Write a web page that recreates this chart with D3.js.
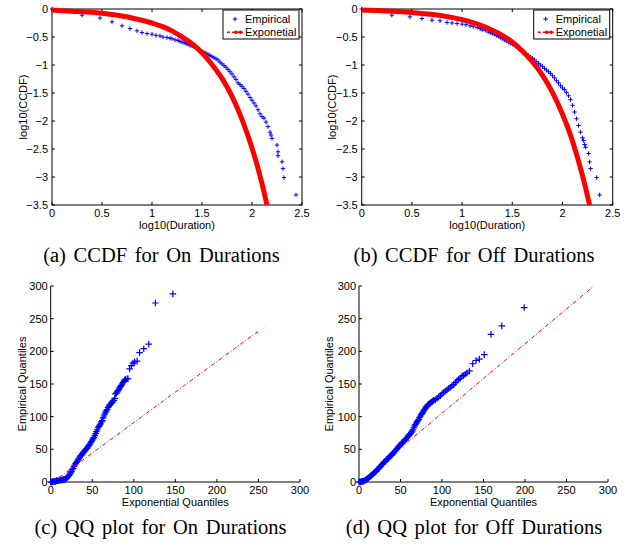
<!DOCTYPE html>
<html>
<head>
<meta charset="utf-8">
<script src="https://cdn.jsdelivr.net/npm/d3@7"></script>
<style>
  body { margin: 0; background: #fff; }
  svg { display: block; }
</style>
</head>
<body>
<svg id="fig" width="639" height="550"></svg>
<script>
// ticks
const ccdfTicksX = [0, 0.5, 1, 1.5, 2, 2.5];
const ccdfTicksY = [0, -0.5, -1, -1.5, -2, -2.5, -3, -3.5];
const qqTicks = [0, 50, 100, 150, 200, 250, 300];

// (a) CCDF On durations: [log10(duration), log10(CCDF)]
const onEmp = [[0,0],[0.30,-0.11],[0.48,-0.16],[0.60,-0.23],[0.70,-0.30],[0.78,-0.35],[0.85,-0.39],[0.90,-0.42],[0.95,-0.44],
  [1.00,-0.45],[1.04,-0.47],[1.08,-0.48],[1.11,-0.50],[1.15,-0.51],[1.18,-0.52],[1.20,-0.53],[1.23,-0.55],[1.26,-0.56],
  [1.28,-0.58],[1.30,-0.59],[1.32,-0.60],[1.34,-0.62],[1.36,-0.63],[1.38,-0.65],[1.40,-0.66],[1.42,-0.68],[1.44,-0.70],
  [1.46,-0.72],[1.48,-0.74],[1.50,-0.76],[1.52,-0.77],[1.54,-0.79],[1.56,-0.81],[1.58,-0.83],[1.60,-0.85],[1.62,-0.87],
  [1.64,-0.89],[1.66,-0.91],[1.68,-0.95],[1.70,-0.98],[1.72,-1.01],[1.74,-1.04],[1.76,-1.08],[1.78,-1.12],[1.80,-1.16],
  [1.82,-1.21],[1.84,-1.26],[1.86,-1.32],[1.88,-1.35],[1.90,-1.38],[1.92,-1.42],[1.94,-1.47],[1.96,-1.52],[1.98,-1.58],
  [2.00,-1.63],[2.02,-1.68],[2.04,-1.73],[2.06,-1.80],[2.08,-1.87],[2.10,-1.92],[2.12,-1.95],[2.14,-2.02],[2.16,-2.10],
  [2.18,-2.20],[2.19,-2.25],[2.20,-2.31],[2.25,-2.43],[2.26,-2.55],[2.26,-2.62],[2.30,-2.73],[2.31,-2.85],[2.32,-3.01],
  [2.44,-3.32]];
const onExp = [[0,-0.02],[0.2,-0.04],[0.4,-0.06],[0.6,-0.10],[0.8,-0.16],[1.0,-0.25],[1.1,-0.31],[1.2,-0.39],[1.3,-0.50],
  [1.4,-0.62],[1.5,-0.78],[1.6,-0.99],[1.7,-1.24],[1.8,-1.56],[1.9,-1.97],[2.0,-2.48],[2.05,-2.78],[2.1,-3.12],[2.15,-3.50]];

// (b) CCDF Off durations
const offEmp = [[0,0],[0.30,-0.11],[0.48,-0.14],[0.60,-0.17],[0.70,-0.20],[0.78,-0.21],[0.85,-0.24],[0.90,-0.25],[0.95,-0.26],
  [1.00,-0.27],[1.04,-0.28],[1.08,-0.30],[1.11,-0.31],[1.15,-0.33],[1.18,-0.35],[1.20,-0.37],[1.23,-0.38],[1.26,-0.41],
  [1.28,-0.42],[1.30,-0.44],[1.32,-0.45],[1.34,-0.47],[1.36,-0.49],[1.38,-0.51],[1.40,-0.53],[1.42,-0.55],[1.44,-0.57],
  [1.46,-0.59],[1.48,-0.61],[1.50,-0.63],[1.52,-0.65],[1.54,-0.67],[1.56,-0.70],[1.58,-0.73],[1.60,-0.75],[1.62,-0.78],
  [1.64,-0.81],[1.66,-0.83],[1.68,-0.86],[1.70,-0.88],[1.72,-0.91],[1.74,-0.94],[1.76,-0.97],[1.78,-1.00],[1.80,-1.03],
  [1.82,-1.06],[1.84,-1.09],[1.86,-1.12],[1.88,-1.15],[1.90,-1.19],[1.92,-1.23],[1.94,-1.28],[1.96,-1.32],[1.98,-1.37],
  [2.00,-1.41],[2.02,-1.44],[2.04,-1.49],[2.06,-1.55],[2.08,-1.62],[2.10,-1.72],[2.12,-1.84],[2.14,-1.96],[2.16,-2.08],
  [2.18,-2.20],[2.20,-2.30],[2.21,-2.35],[2.22,-2.42],[2.23,-2.47],[2.26,-2.58],[2.27,-2.73],[2.28,-2.85],[2.34,-3.01],
  [2.37,-3.32]];
const offExp = [[0,-0.02],[0.2,-0.03],[0.4,-0.05],[0.6,-0.08],[0.8,-0.12],[1.0,-0.19],[1.1,-0.24],[1.2,-0.30],[1.3,-0.38],
  [1.4,-0.47],[1.5,-0.59],[1.6,-0.75],[1.7,-0.94],[1.8,-1.18],[1.9,-1.49],[2.0,-1.88],[2.1,-2.36],[2.2,-2.98],[2.27,-3.50]];

// (c) QQ On durations: [exponential quantile, empirical quantile]
const qqOn = [[0,0],[1,0],[2,0],[3,1],[4,1],[5,1],[6,1],[7,2],[8,2],[9,2],[10,2],[11,3],[12,3],[13,3],[14,3],[15,4],
  [16,4],[17,4],[18,5],[19,6],[20,7],[21,8],[22,10],[23,12],[24,14],[25,16],[26,19],[27,21],[28,24],[29,26],
  [30,28],[31,30],[32,32],[33,34],[34,36],[35,38],[36,40],[37,41],[38,43],[39,45],[40,46],[41,48],[42,49],[43,51],
  [44,52],[45,54],[46,56],[47,58],[48,60],[49,62],[50,64],[51,66],[52,68],[53,71],[54,74],[55,77],[56,80],[57,83],
  [58,85],[59,87],[60,89],[61,92],[62,94],[63,98],[64,101],[65,104],[66,107],[67,109],[68,111],[69,114],[70,116],
  [71,118],[72,119],[73,121],[74,122],[75,124],[76,125],[77,128],[78,135],[79,136],[80,138],[81,140],[82,142],
  [83,144],[84,146],[85,148],[86,150],[87,152],[88,154],[89,156],[90,157],[92,158],[93,158],[95,173],[97,178],
  [99,182],[101,184],[104,185],[107,198],[112,204],[118,211],[126,274],[147,288]];
const qqOnRef = [[10,7],[250,231]];

// (d) QQ Off durations
const qqOff = [[0,0],[1,0],[2,0],[3,1],[4,1],[5,1],[6,2],[7,2],[8,3],[9,4],[10,5],[11,6],[12,7],[13,8],[14,9],[15,10],
  [16,11],[17,12],[18,14],[19,15],[20,16],[21,17],[22,19],[23,20],[24,21],[25,23],[26,24],[27,26],[28,27],[29,28],
  [30,30],[31,31],[32,32],[33,34],[34,35],[35,36],[36,37],[37,39],[38,40],[39,41],[40,42],[41,44],[42,45],[43,47],
  [44,48],[45,50],[46,51],[47,53],[48,54],[49,56],[50,57],[51,59],[52,60],[53,61],[54,62],[55,64],[56,65],[57,67],
  [58,68],[59,70],[60,71],[61,73],[62,74],[63,76],[64,78],[65,80],[66,83],[67,86],[68,88],[69,90],[70,92],[71,94],
  [72,96],[73,99],[74,101],[75,103],[76,105],[77,107],[78,109],[79,111],[80,113],[81,115],[82,116],[83,118],
  [84,119],[85,120],[86,121],[87,122],[88,123],[89,124],[90,125],[92,126],[94,128],[96,130],[98,132],[100,135],
  [102,137],[104,139],[106,141],[108,143],[110,145],[112,147],[114,149],[116,152],[118,155],[120,157],[122,159],
  [124,162],[126,163],[128,165],[130,167],[133,170],[137,181],[141,186],[145,188],[151,195],[159,226],[172,239],
  [199,267]];
const qqOffRef = [[50,52],[283,300]];

const captions = ['(a) CCDF for On Durations', '(b) CCDF for Off Durations',
                  '(c) QQ plot for On Durations', '(d) QQ plot for Off Durations'];

const svg = d3.select('#fig');
const FONT = 'Liberation Sans, Arial, Helvetica, sans-serif';
const SERIF = 'Liberation Serif, Times New Roman, serif';
const BLUE = '#0000ff', RED = '#ff0000';
const fmt = v => (v < 0 ? '\u2212' : '') + Math.abs(v);

function plus(size) {
  return `M${-size},0H${size}M0,${-size}V${size}`;
}

// inner ticks on a given side
function drawAxis(g, scale, ticks, orient, pos, labels) {
  const tl = 3;
  ticks.forEach(t => {
    const p = scale(t);
    if (orient === 'bottom' || orient === 'top') {
      const dir = orient === 'bottom' ? -1 : 1;
      g.append('line').attr('x1', p).attr('x2', p).attr('y1', pos).attr('y2', pos + dir * tl)
        .attr('stroke', '#000').attr('stroke-width', 1);
    } else {
      const dir = orient === 'left' ? 1 : -1;
      g.append('line').attr('y1', p).attr('y2', p).attr('x1', pos).attr('x2', pos + dir * tl)
        .attr('stroke', '#000').attr('stroke-width', 1);
    }
  });
  if (!labels) return;
  g.selectAll(null).data(ticks).enter().append('text')
    .attr('font-family', FONT).attr('font-size', 11).attr('fill', '#000')
    .each(function(t) {
      const s = d3.select(this).text(fmt(t));
      if (orient === 'bottom') {
        s.attr('x', scale(t)).attr('y', labels.y).attr('text-anchor', 'middle');
      } else {
        s.attr('x', labels.x).attr('y', scale(t)).attr('dy', '0.36em').attr('text-anchor', 'end');
      }
    });
}

function drawCCDF(cfg) {
  const g = svg.append('g');
  const x = d3.scaleLinear().domain([0, 2.5]).range([cfg.x0, cfg.x1]);
  const y = d3.scaleLinear().domain([-3.5, 0]).range([205, 9]);

  g.append('rect').attr('x', cfg.x0).attr('y', 9).attr('width', cfg.x1 - cfg.x0).attr('height', 196)
    .attr('fill', 'none').attr('stroke', '#000').attr('stroke-width', 1);
  drawAxis(g, x, ccdfTicksX, 'bottom', 205, { y: 217 });
  drawAxis(g, x, ccdfTicksX, 'top', 9);
  drawAxis(g, y, ccdfTicksY, 'left', cfg.x0, { x: cfg.x0 - 4 });
  drawAxis(g, y, ccdfTicksY, 'right', cfg.x1);

  g.selectAll(null).data(cfg.emp).enter().append('path')
    .attr('d', plus(2.2))
    .attr('transform', d => `translate(${x(d[0])},${y(d[1])})`)
    .attr('stroke', BLUE).attr('stroke-width', 1).attr('fill', 'none');

  const line = d3.line().x(d => x(d[0])).y(d => y(d[1])).curve(d3.curveMonotoneX);
  g.append('path').datum(cfg.exp).attr('d', line)
    .attr('fill', 'none').attr('stroke', RED).attr('stroke-width', 5);

  g.append('text').attr('x', (cfg.x0 + cfg.x1) / 2).attr('y', 229).attr('text-anchor', 'middle')
    .attr('font-family', FONT).attr('font-size', 11).text('log10(Duration)');
  g.append('text').attr('transform', `translate(${cfg.ylabX},107) rotate(-90)`).attr('text-anchor', 'middle')
    .attr('dy', '0.35em').attr('font-family', FONT).attr('font-size', 11).text('log10(CCDF)');

  // legend
  const lx = cfg.x1 - 79, ly = 10;
  const lg = g.append('g').attr('transform', `translate(${lx},${ly})`);
  lg.append('rect').attr('width', 76).attr('height', 29).attr('fill', '#fff')
    .attr('stroke', '#000').attr('stroke-width', 1);
  lg.append('path').attr('d', plus(2.2)).attr('transform', 'translate(12,9)')
    .attr('stroke', BLUE).attr('stroke-width', 1).attr('fill', 'none');
  lg.append('line').attr('x1', 4).attr('x2', 20).attr('y1', 22.3).attr('y2', 22.3)
    .attr('stroke', RED).attr('stroke-width', 1.5).attr('stroke-dasharray', '3,2');
  lg.append('circle').attr('cx', 13).attr('cy', 22.3).attr('r', 1.8).attr('fill', RED);
  lg.append('circle').attr('cx', 17.5).attr('cy', 22.3).attr('r', 1.8).attr('fill', RED);
  lg.append('text').attr('x', 22).attr('y', 9).attr('dy', '0.36em')
    .attr('font-family', FONT).attr('font-size', 11).text('Empirical');
  lg.append('text').attr('x', 22).attr('y', 22.3).attr('dy', '0.36em')
    .attr('font-family', FONT).attr('font-size', 11).text('Exponetial');
}

function drawQQ(cfg) {
  const g = svg.append('g');
  const x = d3.scaleLinear().domain([0, 300]).range([cfg.x0, cfg.x1]);
  const y = d3.scaleLinear().domain([0, 300]).range([482, 286]);

  g.append('path').attr('d', `M${cfg.x0},286V482H${cfg.x1}`)
    .attr('fill', 'none').attr('stroke', '#000').attr('stroke-width', 1);
  drawAxis(g, x, qqTicks, 'bottom', 482, { y: 494 });
  drawAxis(g, y, qqTicks, 'left', cfg.x0, { x: cfg.x0 - 3 });

  g.selectAll(null).data(cfg.pts).enter().append('path')
    .attr('d', plus(3.3))
    .attr('transform', d => `translate(${x(d[0])},${y(d[1])})`)
    .attr('stroke', BLUE).attr('stroke-width', 1.2).attr('fill', 'none');

  g.append('path').datum(cfg.ref)
    .attr('d', d3.line().x(d => x(d[0])).y(d => y(d[1])))
    .attr('fill', 'none').attr('stroke', RED).attr('stroke-width', 1)
    .attr('stroke-dasharray', '4,2,1,2');

  g.append('text').attr('x', (cfg.x0 + cfg.x1) / 2).attr('y', 506).attr('text-anchor', 'middle')
    .attr('font-family', FONT).attr('font-size', 11).text('Exponential Quantiles');
  g.append('text').attr('transform', `translate(${cfg.ylabX},384) rotate(-90)`).attr('text-anchor', 'middle')
    .attr('dy', '0.35em').attr('font-family', FONT).attr('font-size', 11).text('Empirical Quantiles');
}

drawCCDF({ x0: 52, x1: 302, emp: onEmp, exp: onExp, ylabX: 23 });
drawCCDF({ x0: 361.7, x1: 612.7, emp: offEmp, exp: offExp, ylabX: 332 });
drawQQ({ x0: 50.7, x1: 300, pts: qqOn, ref: qqOnRef, ylabX: 22 });
drawQQ({ x0: 359, x1: 608, pts: qqOff, ref: qqOffRef, ylabX: 329 });

// captions
const capPos = [[161.5, 262], [474, 262], [160.5, 534], [474, 534]];
svg.selectAll('text.cap').data(captions).enter().append('text')
  .attr('class', 'cap')
  .attr('x', (d, i) => capPos[i][0]).attr('y', (d, i) => capPos[i][1])
  .attr('text-anchor', 'middle').attr('font-family', SERIF).attr('font-size', 20.5)
  .attr('word-spacing', 2.5)
  .text(d => d);
</script>
</body>
</html>
